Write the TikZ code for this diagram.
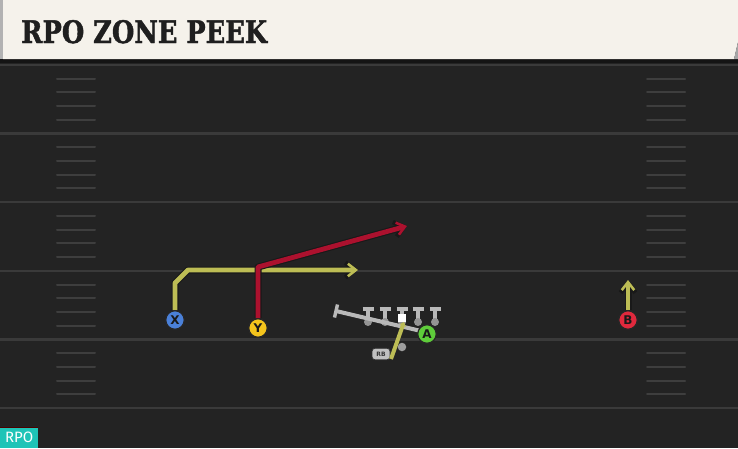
\documentclass[tikz,border=0pt]{standalone}
\usepackage{fontspec}
\usepackage{graphicx}
\usetikzlibrary{arrows.meta}
\newfontfamily\titlefont{DejaVu Serif}[FakeBold=1.5]
\newfontfamily\labfont{DejaVu Sans}
\newfontfamily\tagfont{Fira Sans}
\definecolor{bgc}{HTML}{232323}
\definecolor{yardc}{HTML}{3A3A3A}
\definecolor{hashc}{HTML}{3E3E3E}
\definecolor{beige}{HTML}{F5F2EB}
\definecolor{yel}{HTML}{BDBD55}
\definecolor{redr}{HTML}{AC112E}
\definecolor{xblue}{HTML}{4A80D8}
\definecolor{yyel}{HTML}{F4C41C}
\definecolor{bred}{HTML}{E0293D}
\definecolor{agreen}{HTML}{5ECC3A}
\definecolor{olc}{HTML}{B9B9B9}
\definecolor{teal}{HTML}{1FC4B7}
\tikzset{
  yard/.style={draw=yardc, line width=2.4pt},
  hashmark/.style={draw=hashc, line width=2pt, line cap=round},
  player/.style={circle, minimum size=18.5pt, inner sep=0pt, draw=black!85, line width=1.2pt,
     font=\labfont\bfseries\fontsize{12}{12}\selectfont, text=black!90},
  outl/.style={draw=black!90, line width=7pt, line join=round,
     -{Straight Barb[length=9pt,width=15pt,line width=4.6pt]}},
  yroute/.style={draw=yel, line width=4.8pt, line join=round,
     -{Straight Barb[length=8pt,width=12.5pt,line width=2.6pt]}},
  rroute/.style={draw=redr, line width=4.8pt, line join=round,
     -{Straight Barb[length=8pt,width=12.5pt,line width=2.6pt]}},
  lineman/.style={draw=olc, line width=3.4pt},
  ldot/.style={circle, fill=olc!80!black, minimum size=8pt, inner sep=0pt}
}
\begin{document}
\begin{tikzpicture}[x=1pt,y=-1pt]
\useasboundingbox (0,0) rectangle (738,448);
\fill[bgc] (0,0) rectangle (738,448);
% yard lines and hashes
\foreach \k in {0,...,5}
  \draw[yard] (0,65+\k*68.6) -- (738,65+\k*68.6);
\foreach \k in {0,...,4}
  \foreach \j in {1,2,3,4} {
    \draw[hashmark] (57,65+\k*68.6+\j*13.7) -- (95,65+\k*68.6+\j*13.7);
    \draw[hashmark] (647,65+\k*68.6+\j*13.7) -- (685,65+\k*68.6+\j*13.7);
  }
% header
\fill[black!92] (0,59) rectangle (738,63);
\fill[beige] (3,0) -- (738,0) -- (738,42) -- (734,59) -- (3,59) -- cycle;
\fill[black!35] (738,42) -- (734,59) -- (738,59) -- cycle;
\fill[black!30] (0,0) rectangle (3,59);
\node[anchor=base west, inner sep=0pt, text=black!88] (title) at (21,43)
  {\resizebox{246pt}{23pt}{\titlefont\bfseries RPO ZONE PEEK}};
% RPO tag
\fill[black!70!red] (0,427) rectangle (38,428.5);
\node[anchor=south west, fill=teal, text=white, inner sep=0pt, minimum width=38pt,
  minimum height=20pt, font=\tagfont\fontsize{15}{15}\selectfont] (tag) at (0,448) {RPO};

% players
\node[player, fill=xblue] (X) at (175,320) {X};
\node[player, fill=yyel] (Y) at (258,328) {Y};
\node[player, fill=bred] (B) at (628,320) {B};

% route coordinates
\coordinate (x1) at (175,283);
\coordinate (x2) at (188,270);
\coordinate (xe) at (358,270);
\coordinate (y1) at (258,267);
\coordinate (ye) at (407,226);
\coordinate (be) at (628,280);

% X route
\draw[outl] (X.north) -- (x1) -- (x2) -- (xe);
\draw[yroute] (X.north) -- (x1) -- (x2) -- (xe);
% Y route
\draw[outl] (Y.north) -- (y1) -- (ye);
\draw[rroute] (Y.north) -- (y1) -- (ye);
% B route
\draw[outl] (B.north) -- (be);
\draw[yroute] (B.north) -- (be);
% redraw player circles on top
\node[player, fill=xblue] at (X) {X};
\node[player, fill=yyel] at (Y) {Y};
\node[player, fill=bred] at (B) {B};

% offensive line
\coordinate (s0) at (336,311);
\coordinate (s1) at (421,331);
\foreach \xx [count=\i] in {368,385,402,418,435} {
  \draw[lineman] (\xx-5.5,309) -- (\xx+5.5,309);
  \draw[lineman] (\xx,309) -- (\xx,321);
  \node[ldot] (d\i) at (\xx,322) {};
}
\draw[lineman, line width=4pt] (s0) -- (s1);
\draw[lineman] (334.5,317.5) -- (337.5,304.5);
\node[fill=white, minimum size=8.5pt, inner sep=0pt] (C) at (402,318) {};

% QB dot and RB
\node[circle, fill=olc!85!black, minimum size=8.5pt, inner sep=0pt] (QB) at (402,347) {};
\node[rounded corners=3pt, fill=olc!90, draw=black!80, line width=0.8pt, minimum width=18pt,
  minimum height=11.5pt, inner sep=0pt, font=\labfont\bfseries\fontsize{6}{6}\selectfont,
  text=black!80] (RB) at (381,354) {RB};
\coordinate (rb0) at (391,359);
\coordinate (rbe) at (404,322);
\draw[draw=yel, line width=4pt, -{Stealth[length=4pt,width=7pt]}] (rb0) -- (rbe);

\node[player, fill=agreen] (A) at (427,334) {A};
\end{tikzpicture}
\end{document}
